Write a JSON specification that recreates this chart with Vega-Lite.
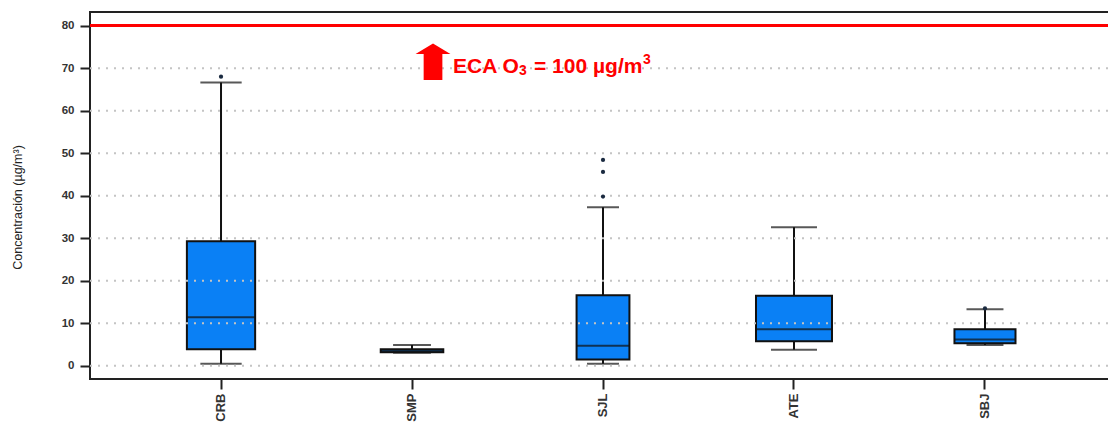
{
  "$schema": "https://vega.github.io/schema/vega-lite/v6.json",
  "autosize": "none",
  "width": 1026,
  "height": 367,
  "padding": {"left": 90, "top": 12, "right": 0, "bottom": 49},
  "background": "white",
  "config": {
    "font": "Liberation Sans",
    "view": {"stroke": "#222222", "strokeWidth": 2}
  },
  "datasets": {
    "boxes": [
      {"station": "CRB", "n": 25, "lower": 0.5, "q1": 3.9, "median": 11.4, "q3": 29.3, "upper": 66.6},
      {"station": "SMP", "n": 21, "lower": 3.1, "q1": 3.2, "median": 3.5, "q3": 3.9, "upper": 4.9},
      {"station": "SJL", "n": 15, "lower": 0.5, "q1": 1.5, "median": 4.7, "q3": 16.6, "upper": 37.3},
      {"station": "ATE", "n": 31, "lower": 3.8, "q1": 5.8, "median": 8.6, "q3": 16.5, "upper": 32.6},
      {"station": "SBJ", "n": 20, "lower": 4.9, "q1": 5.3, "median": 6.2, "q3": 8.6, "upper": 13.3}
    ],
    "outliers": [
      {"station": "CRB", "value": 68.0},
      {"station": "SJL", "value": 39.8},
      {"station": "SJL", "value": 45.6},
      {"station": "SJL", "value": 48.4},
      {"station": "SBJ", "value": 13.5}
    ],
    "gridlines": [
      {"v": 0}, {"v": 10}, {"v": 20}, {"v": 30}, {"v": 40}, {"v": 50}, {"v": 60}, {"v": 70}
    ],
    "note": [
      {"station": "SMP", "y_arrow": 71.5, "y_text": 68.9, "y_sub": 68.4, "y_sup": 71.0, "main": "ECA O", "sub": "3", "rest": "= 100 µg/m", "sup": "3"}
    ]
  },
  "encoding": {
    "x": {
      "field": "station",
      "type": "nominal",
      "sort": ["CRB", "SMP", "SJL", "ATE", "SBJ"],
      "scale": {"type": "band", "paddingInner": 0, "paddingOuter": 0.186},
      "axis": {
        "title": null,
        "labelAngle": 270,
        "labelFontWeight": "bold",
        "labelFontSize": 13,
        "labelColor": "#333333",
        "labelPadding": 4,
        "ticks": true,
        "tickSize": 10,
        "tickWidth": 2,
        "tickColor": "#222222",
        "domain": false,
        "grid": false
      }
    }
  },
  "layer": [
    {
      "data": {"name": "boxes"},
      "mark": {"type": "rule", "color": "#111111", "strokeWidth": 2},
      "encoding": {
        "y": {
          "field": "lower",
          "type": "quantitative",
          "scale": {"domain": [-3.1, 83.2], "nice": false, "zero": false},
          "axis": {
            "title": "Concentración (µg/m³)",
            "titleFontSize": 12.5,
            "titleFontWeight": "normal",
            "titleColor": "#222222",
            "titleAngle": 270,
            "titleX": -73,
            "titleY": 195,
            "titleAlign": "center",
            "titleBaseline": "middle",
            "values": [0, 10, 20, 30, 40, 50, 60, 70, 80],
            "labelFontWeight": "bold",
            "labelFontSize": 11.5,
            "labelColor": "#333333",
            "labelPadding": 6,
            "ticks": true,
            "tickSize": 10,
            "tickWidth": 2,
            "tickColor": "#222222",
            "domain": false,
            "grid": false
          }
        },
        "y2": {"field": "upper"}
      }
    },
    {
      "data": {"name": "boxes"},
      "mark": {"type": "bar", "fill": "#0a80f5", "stroke": "#111111", "strokeWidth": 2},
      "encoding": {
        "y": {"field": "q1", "type": "quantitative"},
        "y2": {"field": "q3"},
        "size": {"field": "n", "type": "quantitative", "scale": {"type": "sqrt", "domain": [0, 31], "range": [0, 76]}, "legend": null}
      }
    },
    {
      "data": {"name": "boxes"},
      "mark": {"type": "tick", "color": "#111111", "thickness": 2},
      "encoding": {
        "y": {"field": "median", "type": "quantitative"},
        "size": {"field": "n", "type": "quantitative", "scale": {"type": "sqrt", "domain": [0, 31], "range": [0, 76]}, "legend": null}
      }
    },
    {
      "data": {"name": "boxes"},
      "mark": {"type": "tick", "color": "#111111", "thickness": 2},
      "encoding": {
        "y": {"field": "upper", "type": "quantitative"},
        "size": {"field": "n", "type": "quantitative", "scale": {"type": "sqrt", "domain": [0, 31], "range": [0, 46]}, "legend": null}
      }
    },
    {
      "data": {"name": "boxes"},
      "mark": {"type": "tick", "color": "#111111", "thickness": 2},
      "encoding": {
        "y": {"field": "lower", "type": "quantitative"},
        "size": {"field": "n", "type": "quantitative", "scale": {"type": "sqrt", "domain": [0, 31], "range": [0, 46]}, "legend": null}
      }
    },
    {
      "data": {"name": "gridlines"},
      "mark": {"type": "rule", "color": "#c4c4c4", "strokeWidth": 2, "strokeDash": [2, 6]},
      "encoding": {
        "y": {"field": "v", "type": "quantitative"},
        "x": {"value": 0},
        "x2": {"value": 1026}
      }
    },
    {
      "data": {"name": "outliers"},
      "mark": {"type": "point", "filled": true, "shape": "circle", "size": 18, "color": "#1a2a40", "opacity": 1},
      "encoding": {
        "y": {"field": "value", "type": "quantitative"}
      }
    },
    {
      "data": {"values": [{"limit": 80}]},
      "mark": {"type": "rule", "color": "#ff0000", "strokeWidth": 3},
      "encoding": {
        "y": {"field": "limit", "type": "quantitative"},
        "x": {"value": 0},
        "x2": {"value": 1026}
      }
    },
    {
      "data": {"name": "note"},
      "mark": {
        "type": "point",
        "filled": true,
        "color": "#ff0000",
        "opacity": 1,
        "size": 1347,
        "xOffset": 21,
        "shape": "M-0.51,1L-0.51,-0.42L-0.95,-0.42L0,-1L0.95,-0.42L0.51,-0.42L0.51,1Z"
      },
      "encoding": {
        "y": {"field": "y_arrow", "type": "quantitative"}
      }
    },
    {
      "data": {"name": "note"},
      "mark": {"type": "text", "color": "#ff0000", "fontSize": 21, "fontWeight": "bold", "align": "left", "baseline": "alphabetic", "dx": 41},
      "encoding": {
        "y": {"field": "y_text", "type": "quantitative"},
        "text": {"field": "main"}
      }
    },
    {
      "data": {"name": "note"},
      "mark": {"type": "text", "color": "#ff0000", "fontSize": 14, "fontWeight": "bold", "align": "left", "baseline": "alphabetic", "dx": 107},
      "encoding": {
        "y": {"field": "y_sub", "type": "quantitative"},
        "text": {"field": "sub"}
      }
    },
    {
      "data": {"name": "note"},
      "mark": {"type": "text", "color": "#ff0000", "fontSize": 21, "fontWeight": "bold", "align": "left", "baseline": "alphabetic", "dx": 122},
      "encoding": {
        "y": {"field": "y_text", "type": "quantitative"},
        "text": {"field": "rest"}
      }
    },
    {
      "data": {"name": "note"},
      "mark": {"type": "text", "color": "#ff0000", "fontSize": 14, "fontWeight": "bold", "align": "left", "baseline": "alphabetic", "dx": 231},
      "encoding": {
        "y": {"field": "y_sup", "type": "quantitative"},
        "text": {"field": "sup"}
      }
    }
  ],
  "resolve": {"scale": {"size": "independent"}}
}
